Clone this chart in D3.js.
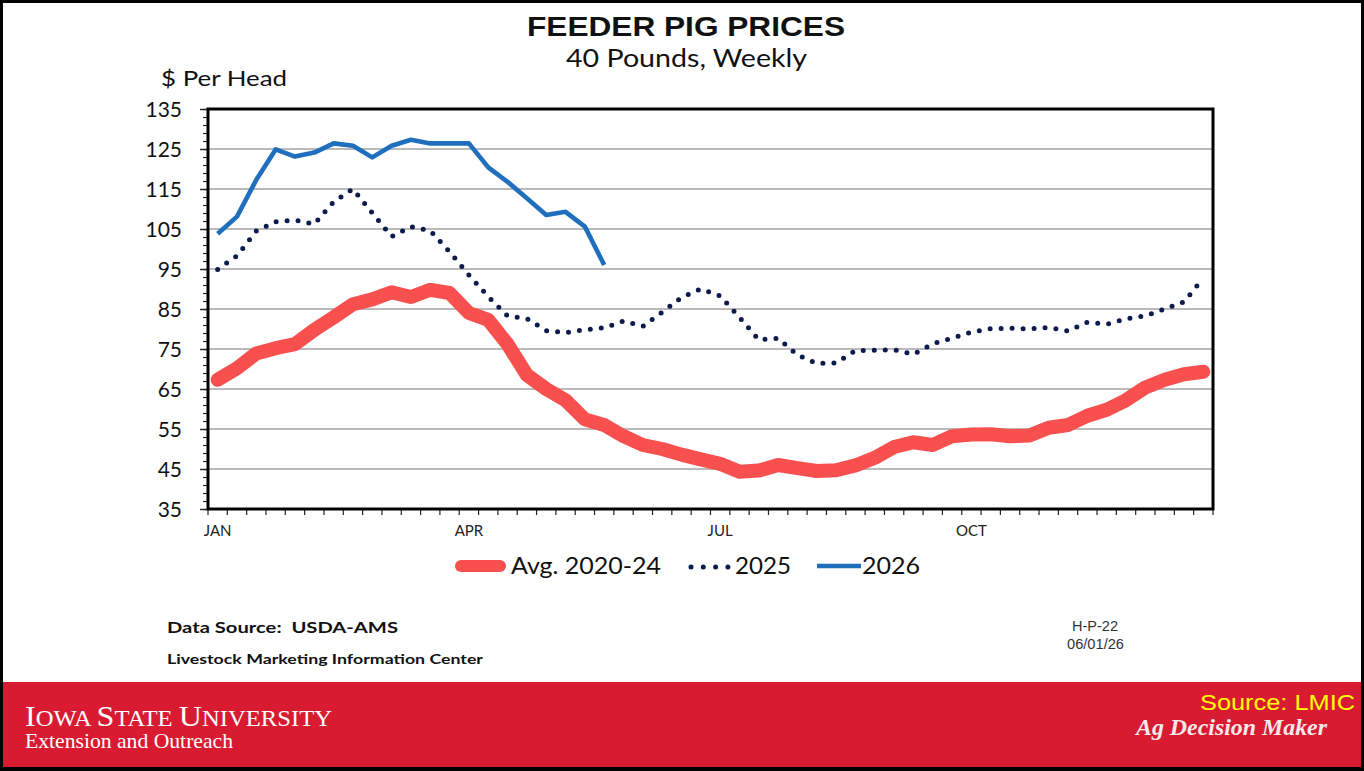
<!DOCTYPE html>
<html>
<head>
<meta charset="utf-8">
<script src="https://cdn.jsdelivr.net/npm/d3@7/dist/d3.min.js"></script>
<style>
	body { margin: 0; background: #fff; }
	svg { display: block; }
</style>
</head>
<body>
<svg id="chart" width="1364" height="771"></svg>
<script>
// weekly categories, 52 weeks
var weeks = d3.range(52);
var monthLabels = ["JAN", "APR", "JUL", "OCT"];
var monthWeeks = [0, 13, 26, 39];
var yTicks = [35, 45, 55, 65, 75, 85, 95, 105, 115, 125, 135];

var avg2020_24 = [67.3, 70.2, 73.9, 75.2, 76.2, 79.8, 82.9, 86.2, 87.4, 89.2,
	88.0, 89.8, 89.0, 84.0, 82.3, 76.2, 68.5, 65.0, 62.2, 57.4,
	56.0, 53.2, 51.0, 50.0, 48.6, 47.4, 46.3, 44.3, 44.6, 46.0,
	45.2, 44.5, 44.7, 45.9, 47.8, 50.5, 51.7, 51.0, 53.2, 53.6,
	53.7, 53.2, 53.4, 55.3, 56.0, 58.3, 59.8, 62.2, 65.4, 67.3,
	68.7, 69.3
];
var y2025 = [94.9, 98.3, 104.5, 106.8, 107.2, 106.2, 111.8, 115.0, 109.0, 103.1,
	105.6, 104.6, 99.3, 93.5, 88.1, 83.3, 82.6, 79.6, 79.1, 79.8,
	80.3, 82.0, 80.7, 84.2, 87.9, 90.0, 88.3, 82.9, 77.3, 77.7,
	73.5, 71.4, 71.5, 74.6, 74.7, 74.8, 73.7, 76.3, 77.7, 79.2,
	80.1, 80.2, 80.0, 80.4, 79.5, 81.7, 81.2, 82.5, 83.3, 85.0,
	86.8, 92.7
];
var y2026 = [103.8, 108.1, 117.3, 124.9, 123.1, 124.1, 126.4, 125.8, 122.9, 125.8,
	127.3, 126.4, 126.4, 126.4, 120.4, 116.8, 112.7, 108.5, 109.3, 105.6,
	96.0
];
var seriesNames = ["Avg. 2020-24", "2025", "2026"];

var svg = d3.select("#chart");
var plot = {left: 208, right: 1213, top: 109, bottom: 509};

var x = d3.scaleBand().domain(weeks).range([plot.left, plot.right]);
var y = d3.scaleLinear().domain([35, 135]).range([plot.bottom, plot.top]);

function xMid(i) {
	return x(i) + x.bandwidth() / 2;
}

// stretch a text to the width it has in the picture
function fit(sel, w) {
	sel.attr("textLength", w).attr("lengthAdjust", "spacingAndGlyphs");
	return sel;
}

svg.append("rect")
	.attr("width", 1364).attr("height", 771)
	.attr("fill", "#fff");

//titles
fit(svg.append("text")
	.attr("x", 527).attr("y", 36)
	.style("font", "bold 28px 'Liberation Sans', Arial, sans-serif")
	.attr("fill", "#111")
	.text("FEEDER PIG PRICES"), 318);

fit(svg.append("text")
	.attr("x", 566).attr("y", 67)
	.style("font", "25px Lato, sans-serif")
	.attr("fill", "#111")
	.text("40 Pounds, Weekly"), 241);

fit(svg.append("text")
	.attr("x", 161).attr("y", 86)
	.style("font", "22px Lato, sans-serif")
	.attr("fill", "#111")
	.text("$ Per Head"), 126);

//gridlines
svg.append("g")
	.selectAll("line")
	.data(yTicks.slice(1, -1))
	.join("line")
	.attr("x1", plot.left).attr("x2", plot.right)
	.attr("y1", function(d) { return y(d); })
	.attr("y2", function(d) { return y(d); })
	.attr("stroke", "#a3a3a3")
	.attr("stroke-width", 1.3);

//y axis: minor ticks every 2, labelled ticks every 10
var minorAxis = d3.axisLeft(y)
	.tickValues(d3.range(35, 136, 2))
	.tickSize(5)
	.tickFormat("");
var majorAxis = d3.axisLeft(y)
	.tickValues(yTicks)
	.tickSize(8)
	.tickPadding(18);

svg.append("g")
	.attr("transform", "translate(" + plot.left + ",0)")
	.call(minorAxis)
	.call(function(g) { g.select(".domain").remove(); })
	.selectAll("line").attr("stroke", "#222").attr("stroke-width", 1.2);

var yAxisG = svg.append("g")
	.attr("transform", "translate(" + plot.left + ",0)")
	.call(majorAxis)
	.call(function(g) { g.select(".domain").remove(); });
yAxisG.selectAll("line").attr("stroke", "#222").attr("stroke-width", 1.4);
yAxisG.selectAll("text")
	.attr("dy", "0.36em")
	.style("font", "21px Lato, sans-serif")
	.attr("fill", "#111");

//x axis ticks sit on the week boundaries
svg.append("g")
	.selectAll("line")
	.data(weeks.concat([weeks.length]))
	.join("line")
	.attr("x1", function(d) { return d < weeks.length ? x(d) : plot.right; })
	.attr("x2", function(d) { return d < weeks.length ? x(d) : plot.right; })
	.attr("y1", plot.bottom)
	.attr("y2", plot.bottom + 6)
	.attr("stroke", "#222")
	.attr("stroke-width", 1.2);

svg.append("g")
	.selectAll("text")
	.data(monthLabels)
	.join("text")
	.attr("x", function(d, i) { return xMid(monthWeeks[i]); })
	.attr("y", 536)
	.attr("text-anchor", "middle")
	.style("font", "15px Lato, sans-serif")
	.attr("fill", "#222")
	.text(function(d) { return d; });

//plot frame
svg.append("rect")
	.attr("x", plot.left).attr("y", plot.top)
	.attr("width", plot.right - plot.left)
	.attr("height", plot.bottom - plot.top)
	.attr("fill", "none")
	.attr("stroke", "#000")
	.attr("stroke-width", 3);

//series
var line = d3.line()
	.x(function(d, i) { return xMid(i); })
	.y(function(d) { return y(d); });

svg.append("path")
	.datum(avg2020_24)
	.attr("d", line)
	.attr("fill", "none")
	.attr("stroke", "#f84f4f")
	.attr("stroke-width", 14)
	.attr("stroke-linejoin", "round")
	.attr("stroke-linecap", "round");

svg.append("path")
	.datum(y2025)
	.attr("d", line)
	.attr("fill", "none")
	.attr("stroke", "#0c1a4c")
	.attr("stroke-width", 5)
	.attr("stroke-dasharray", "0,11")
	.attr("stroke-linecap", "round");

svg.append("path")
	.datum(y2026)
	.attr("d", line)
	.attr("fill", "none")
	.attr("stroke", "#1f6fbe")
	.attr("stroke-width", 4.6)
	.attr("stroke-linejoin", "round");

//legend
var legend = svg.append("g");
legend.append("line")
	.attr("x1", 461).attr("x2", 500).attr("y1", 566).attr("y2", 566)
	.attr("stroke", "#f84f4f").attr("stroke-width", 12)
	.attr("stroke-linecap", "round");
legend.append("line")
	.attr("x1", 691).attr("x2", 728).attr("y1", 567).attr("y2", 567)
	.attr("stroke", "#0c1a4c").attr("stroke-width", 5)
	.attr("stroke-dasharray", "0,12.3")
	.attr("stroke-linecap", "round");
legend.append("line")
	.attr("x1", 817).attr("x2", 861).attr("y1", 566).attr("y2", 566)
	.attr("stroke", "#1f6fbe").attr("stroke-width", 4.6);

var legendPos = [[511, 150], [735, 56], [862, 58]];
seriesNames.forEach(function(name, i) {
	fit(legend.append("text")
		.attr("x", legendPos[i][0]).attr("y", 574)
		.style("font", "24px Lato, sans-serif")
		.attr("fill", "#111")
		.text(name), legendPos[i][1]);
});

//notes
fit(svg.append("text")
	.attr("x", 167).attr("y", 633)
	.style("font", "bold 16px Lato, sans-serif")
	.attr("fill", "#111")
	.attr("xml:space", "preserve")
	.text("Data Source:  USDA-AMS"), 231);

fit(svg.append("text")
	.attr("x", 167).attr("y", 664)
	.style("font", "bold 14px Lato, sans-serif")
	.attr("fill", "#111")
	.text("Livestock Marketing Information Center"), 316);

fit(svg.append("text")
	.attr("x", 1072).attr("y", 631)
	.style("font", "14px 'Liberation Sans', Arial, sans-serif")
	.attr("fill", "#333")
	.text("H-P-22"), 46);

fit(svg.append("text")
	.attr("x", 1067).attr("y", 649)
	.style("font", "14px 'Liberation Sans', Arial, sans-serif")
	.attr("fill", "#333")
	.text("06/01/26"), 57);

//footer band
svg.append("rect")
	.attr("x", 0).attr("y", 682)
	.attr("width", 1364).attr("height", 86)
	.attr("fill", "#d91b32");

var isu = svg.append("text")
	.attr("x", 25).attr("y", 726)
	.style("font-family", "'Liberation Serif', 'Times New Roman', serif")
	.attr("fill", "#fff");
[["I", 30], ["OWA ", 23], ["S", 30], ["TATE ", 23], ["U", 30], ["NIVERSITY", 23]]
	.forEach(function(p) {
		isu.append("tspan").style("font-size", p[1] + "px").text(p[0]);
	});
fit(isu, 307);

fit(svg.append("text")
	.attr("x", 25).attr("y", 748)
	.style("font", "21px 'Liberation Serif', 'Times New Roman', serif")
	.attr("fill", "#fff")
	.text("Extension and Outreach"), 208);

fit(svg.append("text")
	.attr("x", 1200).attr("y", 710)
	.style("font", "22px 'Liberation Sans', Arial, sans-serif")
	.attr("fill", "#ffff00")
	.text("Source: LMIC"), 155);

fit(svg.append("text")
	.attr("x", 1136).attr("y", 735)
	.style("font", "italic bold 23px 'Liberation Serif', 'Times New Roman', serif")
	.attr("fill", "#f6e9ea")
	.text("Ag Decision Maker"), 191);

//outer frame
svg.append("rect")
	.attr("x", 1.5).attr("y", 1.5)
	.attr("width", 1361).attr("height", 767)
	.attr("fill", "none")
	.attr("stroke", "#000")
	.attr("stroke-width", 3);
svg.append("line")
	.attr("x1", 0).attr("x2", 1364).attr("y1", 769.5).attr("y2", 769.5)
	.attr("stroke", "#000").attr("stroke-width", 3);
</script>
</body>
</html>
